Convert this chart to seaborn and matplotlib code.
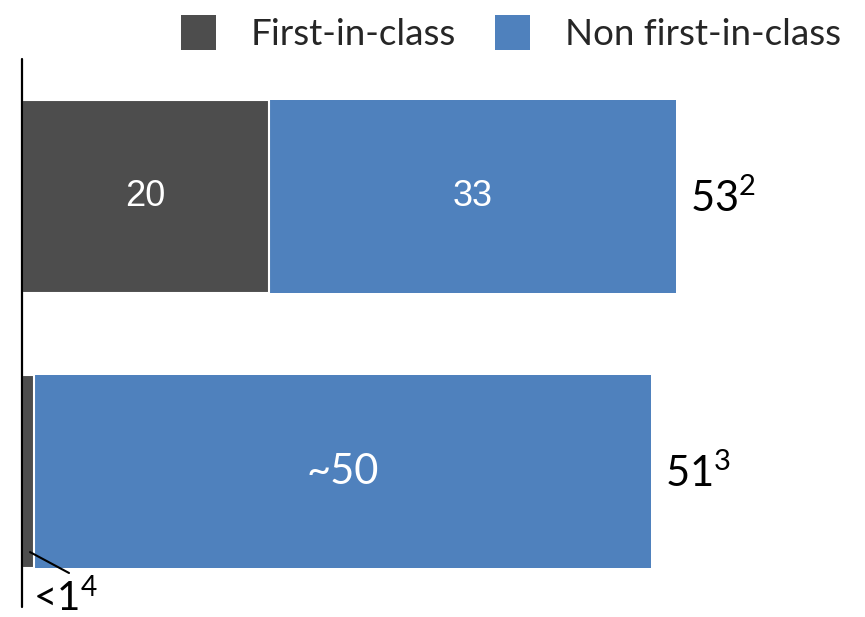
import matplotlib
matplotlib.use("Agg")
import matplotlib.pyplot as plt
import seaborn as sns
import pandas as pd
from matplotlib.patches import Patch

# ---- data ----
categories = ["Group 1", "Group 2"]
first_in_class = [20, 1]
non_first_in_class = [33, 50]
totals = [53, 51]
first_labels = ["20", ""]
non_first_labels = ["33", "~50"]
total_labels = ["53", "51"]
total_notes = ["2", "3"]
small_label = "<1"
small_note = "4"
legend_labels = ["First-in-class", "Non first-in-class"]

DARK = "#4d4d4d"
BLUE = "#4f81bd"

sns.set_theme(style="white")
plt.rcParams["font.family"] = ["Lato", "DejaVu Sans"]
plt.rcParams["mathtext.fontset"] = "custom"
plt.rcParams["mathtext.rm"] = "Lato"
plt.rcParams["mathtext.it"] = "Lato:italic"
plt.rcParams["mathtext.bf"] = "Lato:bold"
plt.rcParams["mathtext.default"] = "regular"

df = pd.DataFrame({"cat": categories, "first": first_in_class,
                   "non": non_first_in_class, "total": totals})

fig = plt.figure(figsize=(8.65, 6.17), dpi=100)
ax = fig.add_axes([22 / 865, 0, 843 / 865, 1])

sns.barplot(data=df, x="total", y="cat", orient="h", color=BLUE, saturation=1,
            width=0.702, linewidth=0, ax=ax)
sns.barplot(data=df, x="first", y="cat", orient="h", color=DARK, saturation=1,
            width=0.702, edgecolor="white", linewidth=1.5, ax=ax)

ax.set_xlim(0, 843 / 12.34)
ax.set_ylim(1.529, -0.7145)
ax.axis("off")

# vertical baseline
ax.plot([0, 0], [-0.5, 1.493], color="black", lw=1.6, clip_on=False, zorder=5)

for i in range(len(categories)):
    f = first_in_class[i]
    n = non_first_in_class[i]
    if first_labels[i]:
        ax.text(f / 2, i, first_labels[i], ha="center", va="center", color="white",
                fontsize=26, family="Liberation Sans")
    if non_first_labels[i] == "~50":
        ax.text(f + n / 2, i, non_first_labels[i], ha="center", va="center",
                color="white", fontsize=30, family="Lato")
    else:
        ax.text(f + n / 2, i, non_first_labels[i], ha="center", va="center",
                color="white", fontsize=26, family="Liberation Sans")
    ax.annotate(r"%s$^{%s}$" % (total_labels[i], total_notes[i]),
                xy=(totals[i], i), xytext=(10, -11.5), textcoords="offset points",
                ha="left", va="baseline", fontsize=30, color="black")

# small label for the tiny segment
ax.plot([0.65, 3.81], [1.293, 1.369], color="black", lw=1.5, clip_on=False, zorder=6)
ax.text(0.9, 1.508, r"%s$^{%s}$" % (small_label, small_note), ha="left",
        va="baseline", fontsize=29, color="black")

handles = [Patch(facecolor=DARK, edgecolor="none"), Patch(facecolor=BLUE, edgecolor="none")]
fig.legend(handles, legend_labels, loc="upper right", bbox_to_anchor=(0.998, 1.012),
           ncol=2, frameon=False, fontsize=26.5, handlelength=0.95, handleheight=1.1,
           handletextpad=0.95, columnspacing=1.06, borderaxespad=0.2)

fig.savefig("out.png", dpi=100)
